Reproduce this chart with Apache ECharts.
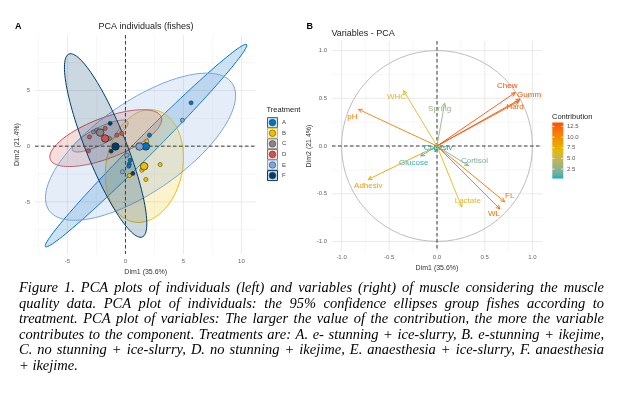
<!DOCTYPE html>
<html><head><meta charset="utf-8">
<script src="https://cdn.jsdelivr.net/npm/echarts@6/dist/echarts.min.js"></script>
<style>html,body{margin:0;padding:0;background:#fff}#c{width:623px;height:393px}</style>
</head><body><div id="c"></div>
<script>
// ---------------- DATA ----------------
const treatments = ['A', 'B', 'C', 'D', 'E', 'F'];
// individuals (Dim1, Dim2) per treatment
const ptsA = [[5.66, 3.89], [0.41, -1.26], [0.32, -1.62], [0.29, -1.80], [2.07, 0.99]];
const ptsB = [[1.84, 0.45], [0.35, -2.63], [1.41, -2.15], [2.99, -1.65], [1.76, -2.99]];
const ptsC = [[-2.75, 1.28], [-2.47, 1.44], [-1.38, 0.69]];
const ptsD = [[-1.75, 1.59], [-3.10, 0.83], [-3.19, -0.42], [-0.74, 0.99], [-0.31, 1.14]];
const ptsE = [[4.91, 2.33], [0.12, -0.81], [-0.26, -2.30]];
const ptsF = [[-1.32, 2.04], [-1.23, -0.45], [0.64, -2.45]];
// group mean points (Dim1, Dim2)
const groupMeans = [[1.76, -0.02], [1.61, -1.80], [-2.18, 1.22], [-1.75, 0.69], [1.21, -0.03], [-0.86, -0.03]];
// 95% confidence ellipses: [centre Dim1, centre Dim2, semi-major, semi-minor, angle deg]
const ellipseParams = [
  [1.77, 0.05, 12.55, 0.85, 46.3],
  [1.63, -1.78, 5.11, 3.3, 80],
  [-2.18, 0.91, 2.7, 0.75, 28],
  [-1.70, 0.72, 5.15, 1.8, 22],
  [1.30, -0.05, 9.74, 4.0, 36.3],
  [-1.71, 0.06, 8.8, 1.75, 111]
];
// variables panel
const varNames = ['WHC', 'pH', 'Chew', 'Gumm', 'Hard', 'Spring', 'Cohesiv', 'Glucose', 'Cortisol', 'Adhesiv', 'Lactate', 'WL', 'FL'];
const varDim1 = [-0.35, -0.823, 0.82, 0.87, 0.86, 0.08, -0.02, -0.17, 0.33, -0.72, 0.26, 0.66, 0.71];
const varDim2 = [0.58, 0.384, 0.56, 0.49, 0.47, 0.45, -0.06, -0.105, -0.206, -0.35, -0.64, -0.66, -0.585];
const varContrib = [6.1, 11.1, 13.4, 13.3, 12.7, 2.8, 0.3, 0.6, 2.0, 8.6, 6.5, 11.7, 11.3];
// tick values
const ticksA_x = [-5, 0, 5, 10];
const ticksA_y = [-5, 0, 5];
const minorA_x = [-7.5, -2.5, 2.5, 7.5];
const minorA_y = [-7.5, -2.5, 2.5, 7.5];
const ticksB = [-1, -0.5, 0, 0.5, 1];
const minorB = [-0.75, -0.25, 0.25, 0.75];
const contribTicks = [2.5, 5, 7.5, 10, 12.5];
const captionLines = [
  "Figure 1. PCA plots of individuals (left) and variables (right) of muscle considering the muscle",
  "quality data. PCA plot of individuals: the 95% confidence ellipses group fishes according to",
  "treatment. PCA plot of variables: The larger the value of the contribution, the more the variable",
  "contributes to the component. Treatments are: A. e- stunning + ice-slurry, B. e-stunning + ikejime,",
  "C. no stunning + ice-slurry, D. no stunning + ikejime, E. anaesthesia + ice-slurry, F. anaesthesia",
  "+ ikejime."
];

// ---------------- STYLE ----------------
const groupColors = ['#0073C2', '#EFC000', '#868686', '#CD534C', '#7AA6DC', '#003C67'];
const gradCols = ['#00AFBB', '#E7B800', '#FC4E07'];
const SANS = '"Liberation Sans", Arial, sans-serif';
const varLabelOffset = {
  Chew: [-8, -7], Gumm: [9, -4], Hard: [-4, 6], pH: [-6, 7], WHC: [-7, 6], Spring: [-5, 6],
  Cohesiv: [3, -4], Glucose: [-7, 7], Cortisol: [6, -5], Adhesiv: [0, 6], Lactate: [6, -6],
  WL: [-6, 5], FL: [5, -6]
};
function hexA(hex, a) {
  const n = parseInt(hex.slice(1), 16);
  return 'rgba(' + (n >> 16 & 255) + ',' + (n >> 8 & 255) + ',' + (n & 255) + ',' + a + ')';
}
// Lab interpolation (as ggplot's gradientn does)
function hexToLab(hex) {
  const n = parseInt(hex.slice(1), 16);
  const lin = c => { c /= 255; return c <= 0.04045 ? c / 12.92 : Math.pow((c + 0.055) / 1.055, 2.4); };
  const r = lin(n >> 16 & 255), g = lin(n >> 8 & 255), b = lin(n & 255);
  const X = (0.4124 * r + 0.3576 * g + 0.1805 * b) / 0.95047, Y = 0.2126 * r + 0.7152 * g + 0.0722 * b, Z = (0.0193 * r + 0.1192 * g + 0.9505 * b) / 1.08883;
  const f = t => t > 0.008856 ? Math.cbrt(t) : 7.787 * t + 16 / 116;
  const fx = f(X), fy = f(Y), fz = f(Z);
  return [116 * fy - 16, 500 * (fx - fy), 200 * (fy - fz)];
}
function labToHex(L) {
  const fy = (L[0] + 16) / 116, fx = fy + L[1] / 500, fz = fy - L[2] / 200;
  const fi = t => t * t * t > 0.008856 ? t * t * t : (t - 16 / 116) / 7.787;
  const X = fi(fx) * 0.95047, Y = fi(fy), Z = fi(fz) * 1.08883;
  const r = 3.2406 * X - 1.5372 * Y - 0.4986 * Z, g = -0.9689 * X + 1.8758 * Y + 0.0415 * Z, b = 0.0557 * X - 0.2040 * Y + 1.0570 * Z;
  const s = c => { c = c <= 0.0031308 ? 12.92 * c : 1.055 * Math.pow(c, 1 / 2.4) - 0.055; return Math.round(Math.max(0, Math.min(1, c)) * 255); };
  return '#' + [s(r), s(g), s(b)].map(v => v.toString(16).padStart(2, '0')).join('');
}
const labStops = [];
(function () {
  const labs = gradCols.map(hexToLab);
  const N = 40;
  for (let k = 0; k <= N; k++) {
    const p = k / N * (labs.length - 1);
    const i = Math.min(Math.floor(p), labs.length - 2), f = p - i;
    labStops.push(labToHex([0, 1, 2].map(j => labs[i][j] + (labs[i + 1][j] - labs[i][j]) * f)));
  }
})();

const chart = echarts.init(document.getElementById('c'), null, { renderer: 'canvas', width: 623, height: 393 });

function gridLines(idx, xs, ys, major) {
  const data = xs.map(v => [v, 0]).concat(ys.map(v => [v, 1]));
  return {
    type: 'custom', xAxisIndex: idx, yAxisIndex: idx, silent: true, z: 1, clip: false,
    data: data,
    renderItem: function (params, api) {
      const cs = params.coordSys;
      const v = api.value(0), dir = api.value(1);
      let shape;
      if (dir === 0) { const x = api.coord([v, 0])[0]; shape = { x1: x, y1: cs.y, x2: x, y2: cs.y + cs.height }; }
      else { const y = api.coord([0, v])[1]; shape = { x1: cs.x, y1: y, x2: cs.x + cs.width, y2: y }; }
      return { type: 'line', shape: shape, style: { stroke: major ? '#e4e4e4' : '#f1f1f1', lineWidth: major ? 0.8 : 0.6 } };
    }
  };
}
function zeroLines(idx) {
  return {
    type: 'custom', xAxisIndex: idx, yAxisIndex: idx, silent: true, z: 3,
    data: [[0, 0], [0, 1]],
    renderItem: function (params, api) {
      const cs = params.coordSys;
      const dir = api.value(1);
      const o = api.coord([0, 0]);
      const shape = dir === 0 ? { x1: o[0], y1: cs.y, x2: o[0], y2: cs.y + cs.height } : { x1: cs.x, y1: o[1], x2: cs.x + cs.width, y2: o[1] };
      return { type: 'line', shape: shape, style: { stroke: '#3c3c3c', lineWidth: 1, lineDash: [3.5, 2.5] } };
    }
  };
}

function axis(gi, min, max, ticks, fmt, name, nameGap, margin) {
  return {
    gridIndex: gi, type: 'value', min: min, max: max,
    axisLine: { show: false },
    axisTick: { show: true, customValues: ticks, length: 2.5, lineStyle: { color: '#6a6a6a', width: 0.8 } },
    axisLabel: { customValues: ticks, formatter: fmt, fontSize: 6, color: '#666', margin: margin, fontFamily: SANS },
    splitLine: { show: false },
    name: name, nameLocation: 'middle', nameGap: nameGap,
    nameTextStyle: { fontSize: 7, color: '#333', fontFamily: SANS }
  };
}

const allPts = [ptsA, ptsB, ptsC, ptsD, ptsE, ptsF];
const series = [];
series.push(gridLines(0, minorA_x, minorA_y, false));
series.push(gridLines(0, ticksA_x, ticksA_y, true));
series.push(gridLines(1, minorB, minorB, false));
series.push(gridLines(1, ticksB, ticksB, true));
// ellipses
series.push({
  type: 'custom', xAxisIndex: 0, yAxisIndex: 0, silent: true, z: 2, clip: true,
  data: ellipseParams.map((e, i) => e.concat([i])),
  renderItem: function (params, api) {
    const cx = api.value(0), cy = api.value(1), a = api.value(2), b = api.value(3), th = api.value(4) * Math.PI / 180, gi = api.value(5);
    const pts = [];
    for (let k = 0; k < 120; k++) {
      const t = k / 120 * 2 * Math.PI;
      const dx = a * Math.cos(t), dy = b * Math.sin(t);
      pts.push(api.coord([cx + dx * Math.cos(th) - dy * Math.sin(th), cy + dx * Math.sin(th) + dy * Math.cos(th)]));
    }
    return { type: 'polygon', shape: { points: pts }, style: { fill: hexA(groupColors[gi], 0.2), stroke: groupColors[gi], lineWidth: 1 } };
  }
});
series.push(zeroLines(0));
series.push(zeroLines(1));
// individuals
allPts.forEach((pts, i) => {
  series.push({
    type: 'scatter', name: treatments[i], xAxisIndex: 0, yAxisIndex: 0, z: 4, silent: true,
    data: pts, symbolSize: 4.2,
    itemStyle: { color: groupColors[i], borderColor: '#333', borderWidth: 0.5, opacity: 1 }
  });
});
// group means
series.push({
  type: 'scatter', xAxisIndex: 0, yAxisIndex: 0, z: 5, silent: true,
  data: groupMeans.map((m, i) => ({ value: m, itemStyle: { color: groupColors[i] } })),
  symbolSize: 7.5,
  itemStyle: { borderColor: '#222', borderWidth: 0.7, opacity: 1 }
});
// correlation circle
series.push({
  type: 'custom', xAxisIndex: 1, yAxisIndex: 1, silent: true, z: 2,
  data: [[0, 0, 1]],
  renderItem: function (params, api) {
    const o = api.coord([0, 0]);
    const r = api.coord([api.value(2), 0])[0] - o[0];
    return { type: 'circle', shape: { cx: o[0], cy: o[1], r: r }, style: { fill: null, stroke: '#b5b5b5', lineWidth: 0.9 } };
  }
});
// variable arrows
const arrowSeriesIndex = series.length;
series.push({
  type: 'custom', xAxisIndex: 1, yAxisIndex: 1, silent: true, z: 6,
  data: varDim1.map((x, i) => [x, varDim2[i], varContrib[i], i]),
  encode: { x: 0, y: 1 },
  renderItem: function (params, api) {
    const o = api.coord([0, 0]);
    const t = api.coord([api.value(0), api.value(1)]);
    const color = api.visual('color');
    const ang = Math.atan2(t[1] - o[1], t[0] - o[0]);
    const L = 4.5, w = Math.PI / 7;
    const p1 = [t[0] - L * Math.cos(ang - w), t[1] - L * Math.sin(ang - w)];
    const p2 = [t[0] - L * Math.cos(ang + w), t[1] - L * Math.sin(ang + w)];
    const nm = varNames[api.value(3)];
    const off = varLabelOffset[nm];
    return {
      type: 'group', children: [
        { type: 'line', shape: { x1: o[0], y1: o[1], x2: t[0], y2: t[1] }, style: { stroke: color, lineWidth: 0.9 } },
        { type: 'polyline', shape: { points: [p1, t, p2] }, style: { stroke: color, lineWidth: 0.9, fill: null } },
        { type: 'text', x: t[0] + off[0], y: t[1] + off[1], style: { text: nm, fill: color, font: '8px ' + SANS, align: 'center', verticalAlign: 'middle' } }
      ]
    };
  }
});

const cMin = Math.min.apply(null, varContrib), cMax = Math.max.apply(null, varContrib);

// ---------------- GRAPHICS (titles, legends, caption) ----------------
const graphics = [];
function txt(x, y, s, font, fill, align, vAlign) {
  graphics.push({ type: 'text', x: x, y: y, silent: true, style: { text: s, font: font, fill: fill || '#000', align: align || 'left', verticalAlign: vAlign || 'middle' } });
}
txt(15, 26.5, 'A', 'bold 9px ' + SANS, '#000');
txt(146, 27, 'PCA individuals (fishes)', '9px ' + SANS, '#222', 'center');
txt(306.5, 26.5, 'B', 'bold 9px ' + SANS, '#000');
txt(331.5, 33.5, 'Variables - PCA', '9px ' + SANS, '#222');
// Treatment legend
txt(266.5, 110, 'Treatment', '7.5px ' + SANS, '#222');
treatments.forEach((t, i) => {
  const cy = 122.6 + i * 10.6;
  graphics.push({ type: 'rect', silent: true, shape: { x: 267.5, y: cy - 5, width: 10, height: 10 }, style: { fill: hexA(groupColors[i], 0.2), stroke: groupColors[i], lineWidth: 1 } });
  graphics.push({ type: 'circle', silent: true, shape: { cx: 272.5, cy: cy, r: 3.3 }, style: { fill: groupColors[i], stroke: '#333', lineWidth: 0.5 } });
  txt(282, cy, t, '6px ' + SANS, '#444');
});
// Contribution colour bar
txt(552, 116.5, 'Contribution', '7.5px ' + SANS, '#222');
const barX = 552.3, barY = 122.5, barW = 11, barH = 56;
graphics.push({
  type: 'rect', silent: true, shape: { x: barX, y: barY, width: barW, height: barH },
  style: { fill: new echarts.graphic.LinearGradient(0, 1, 0, 0, labStops.map((c, k) => ({ offset: k / (labStops.length - 1), color: c }))) }
});
contribTicks.forEach(v => {
  const y = barY + barH - (v - cMin) / (cMax - cMin) * barH;
  graphics.push({ type: 'line', silent: true, shape: { x1: barX, y1: y, x2: barX + 2.2, y2: y }, style: { stroke: '#fff', lineWidth: 0.7 } });
  graphics.push({ type: 'line', silent: true, shape: { x1: barX + barW - 2.2, y1: y, x2: barX + barW, y2: y }, style: { stroke: '#fff', lineWidth: 0.7 } });
  txt(567, y, v.toFixed(1), '6px ' + SANS, '#555');
});
// Caption (justified, italic serif)
const capLeft = 19, capRight = 604, capTop = 288.5, capStep = 15.5;
const mctx = document.createElement('canvas').getContext('2d');
const fontFor = s => 'italic ' + s.toFixed(2) + 'px "Liberation Serif", "Times New Roman", serif';
mctx.font = fontFor(13);
let maxNat = 0;
captionLines.slice(0, -1).forEach(l => { maxNat = Math.max(maxNat, mctx.measureText(l).width); });
const capSize = Math.min(14.5, 13 * (capRight - capLeft) / maxNat * 0.99);
const capFont = fontFor(capSize);
mctx.font = capFont;
captionLines.forEach((line, li) => {
  const words = line.split(' ');
  const widths = words.map(w => mctx.measureText(w).width);
  const total = widths.reduce((a, b) => a + b, 0);
  const last = li === captionLines.length - 1;
  const gap = last ? mctx.measureText(' ').width : (capRight - capLeft - total) / (words.length - 1);
  let x = capLeft;
  const y = capTop + li * capStep;
  words.forEach((w, wi) => {
    txt(x, y, w, capFont, '#000');
    x += widths[wi] + gap;
  });
});

const option = {
  backgroundColor: '#fff',
  animation: false,
  grid: [
    { left: 35, top: 35, width: 221.5, height: 219 },
    { left: 332, top: 41, width: 210, height: 210 }
  ],
  xAxis: [
    axis(0, -7.8, 11.3, ticksA_x, v => String(v), 'Dim1 (35.6%)', 10, 4),
    axis(1, -1.1, 1.1, ticksB, v => v.toFixed(1), 'Dim1 (35.6%)', 13, 3)
  ],
  yAxis: [
    axis(0, -9.68, 9.98, ticksA_y, v => String(v), 'Dim2 (21.4%)', 14, 5),
    axis(1, -1.1, 1.1, ticksB, v => v.toFixed(1), 'Dim2 (21.4%)', 18, 5)
  ],
  visualMap: [{
    show: false, type: 'continuous', seriesIndex: arrowSeriesIndex, dimension: 2,
    min: cMin, max: cMax, inRange: { color: labStops }
  }],
  series: series,
  graphic: graphics
};
chart.setOption(option);
</script>
</body></html>
